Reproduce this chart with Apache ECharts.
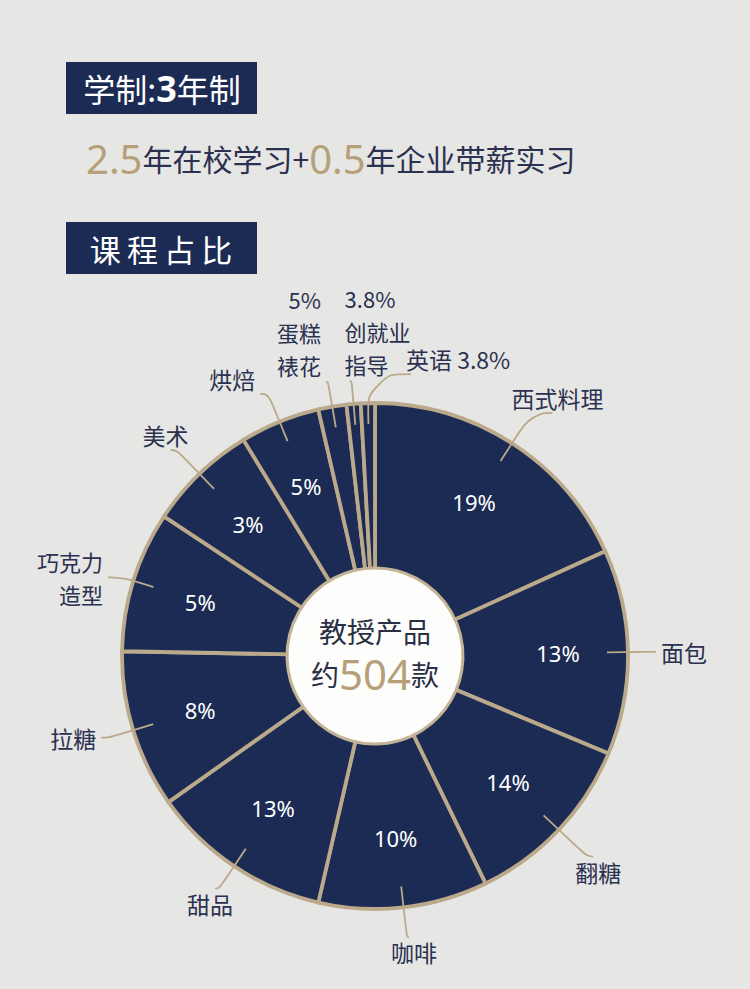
<!DOCTYPE html>
<html>
<head>
<meta charset="utf-8">
<script src="https://cdn.jsdelivr.net/npm/echarts@6/dist/echarts.min.js"></script>
<style>
html,body{margin:0;padding:0;background:#e6e6e4;}
#chart{width:750px;height:989px;}
</style>
</head>
<body>
<div id="chart"></div>
<script>
// ---- data ----
const courseNames = ['西式料理','面包','翻糖','咖啡','甜品','拉糖','巧克力\n造型','美术','烘焙','蛋糕\n裱花','创就业\n指导','英语'];
const sliceShares = [18.2, 13.1, 11.5, 10.8, 11.6, 10.1, 9.0, 7.0, 5.1, 1.8, 0.9, 0.9];
const insidePercent = ['19%','13%','14%','10%','13%','8%','5%','3%','5%','','',''];
const outsidePercent = ['','','','','','','','','','5%','3.8%','3.8%'];
const centerTitle = '教授产品';
const productCount = 504;
const schoolYears = '3';
const studyYears = '2.5';
const internYears = '0.5';

// ---- styles ----
const NAVY = '#1c2b53';
const GOLD_LINE = '#bba98b';
const GOLD_TEXT = '#b6a07a';
const DARK_TEXT = '#2b3150';
const CJK = "'Noto Sans CJK SC','Noto Sans',sans-serif";
const LATIN = "'Noto Sans','Noto Sans CJK SC',sans-serif";

const leaderLen  = [57, 27, 60, 51, 48, 46, 33, 54, 51, 46, 44, 50];
const leaderLen2 = [21, 22, 6, 2, 4, 8, 14, 6, 8, 2, 2, -44];
const outerAlign  = ['center','left','center','center','center','right','right','center','right','right','left','left'];
const outerVAlign = ['bottom','middle','top','top','top','middle','middle','bottom','bottom','bottom','bottom','bottom'];
const outerOrder  = ['n','n','n','n','n','n','n','n','n','pn','pn','np'];

const CENTER = [375, 656];

const baseData = courseNames.map((n, i) => ({ name: n, value: sliceShares[i] }));

function outerText(i) {
  const o = outerOrder[i];
  if (o === 'pn') return outsidePercent[i] + '\n' + courseNames[i];
  if (o === 'np') return courseNames[i] + ' ' + outsidePercent[i];
  return courseNames[i];
}

const option = {
  backgroundColor: '#e6e6e4',
  animation: false,
  graphic: [
    { type: 'rect', left: 66, top: 62, shape: { width: 191, height: 52 }, style: { fill: NAVY }, silent: true },
    { type: 'text', x: 162, y: 88, silent: true,
      style: { text: '{a|学制:}{b|' + schoolYears + '}{a|年制}', align: 'center', verticalAlign: 'middle',
        textAlign: 'center', textVerticalAlign: 'middle',
        rich: { a: { fill: '#ffffff', fontSize: 32, fontFamily: CJK },
                b: { fill: '#ffffff', fontSize: 36, fontWeight: 'bold', fontFamily: LATIN } } } },
    { type: 'text', x: 86, y: 158, silent: true,
      style: { text: '{g|' + studyYears + '}{t|年在校学习+}{g|' + internYears + '}{t|年企业带薪实习}',
        align: 'left', verticalAlign: 'middle', textAlign: 'left', textVerticalAlign: 'middle',
        rich: { g: { fill: GOLD_TEXT, fontSize: 40, fontFamily: LATIN },
                t: { fill: DARK_TEXT, fontSize: 30, fontFamily: CJK } } } },
    { type: 'rect', left: 66, top: 222, shape: { width: 191, height: 52 }, style: { fill: NAVY }, silent: true },
    { type: 'text', x: 161, y: 248, silent: true,
      style: { text: '课\u2009程\u2009占\u2009比', align: 'center', verticalAlign: 'middle',
        textAlign: 'center', textVerticalAlign: 'middle',
        fill: '#ffffff', fontSize: 31, fontFamily: CJK } }
  ],
  series: [
    {
      type: 'pie', name: 'slices', z: 2, silent: true,
      center: CENTER, radius: [0, 253], startAngle: 90, clockwise: true,
      itemStyle: { color: NAVY, borderColor: GOLD_LINE, borderWidth: 3.8 },
      label: { show: false }, labelLine: { show: false },
      emphasis: { disabled: true },
      data: baseData
    },
    {
      type: 'pie', name: 'percent', z: 3, silent: true,
      center: CENTER, radius: [107, 253], startAngle: 90, clockwise: true,
      itemStyle: { color: 'rgba(0,0,0,0)', borderWidth: 0 },
      label: { show: true, position: 'inside', color: '#ffffff', fontSize: 22, fontFamily: LATIN,
        formatter: p => insidePercent[p.dataIndex] },
      labelLine: { show: false },
      emphasis: { disabled: true },
      data: baseData
    },
    {
      type: 'pie', name: 'names', z: 4, silent: true,
      center: CENTER, radius: [0, 232], startAngle: 90, clockwise: true,
      avoidLabelOverlap: false,
      itemStyle: { color: 'rgba(0,0,0,0)', borderWidth: 0 },
      label: { show: true, position: 'outside', color: DARK_TEXT, fontSize: 23, lineHeight: 30,
        fontFamily: CJK, distanceToLabelLine: 5,
        formatter: p => outerText(p.dataIndex) },
      labelLine: { show: true, smooth: 0.5, minTurnAngle: 0, maxSurfaceAngle: 180,
        lineStyle: { color: GOLD_LINE, width: 1.8 } },
      labelLayout: p => ({ align: outerAlign[p.dataIndex], verticalAlign: outerVAlign[p.dataIndex] }),
      emphasis: { disabled: true },
      data: courseNames.map((n, i) => {
        const multi = outerText(i).indexOf('\n') >= 0;
        return {
          name: n, value: sliceShares[i],
          label: multi ? { fontSize: 22, lineHeight: 33 } : {},
          labelLine: { length: leaderLen[i], length2: leaderLen2[i] }
        };
      })
    },
    {
      type: 'pie', name: 'disc', z: 5, silent: true,
      center: CENTER, radius: [0, 88],
      itemStyle: { color: '#fdfdfc', borderColor: '#c4b396', borderWidth: 3 },
      label: { show: true, position: 'center', padding: [0, 0, 8, 0],
        formatter: '{a|' + centerTitle + '}\n{b|约}{c|' + productCount + '}{b|款}',
        rich: {
          a: { fontSize: 28, color: '#2a2f45', fontFamily: CJK, lineHeight: 43 },
          b: { fontSize: 28, color: '#2a2f45', fontFamily: CJK, lineHeight: 43 },
          c: { fontSize: 42, color: GOLD_TEXT, fontFamily: LATIN, lineHeight: 43 }
        } },
      labelLine: { show: false },
      emphasis: { disabled: true },
      data: [{ name: 'center', value: 1 }]
    }
  ]
};

const chart = echarts.init(document.getElementById('chart'), null, { renderer: 'svg', width: 750, height: 989 });
chart.setOption(option);
</script>
</body>
</html>
